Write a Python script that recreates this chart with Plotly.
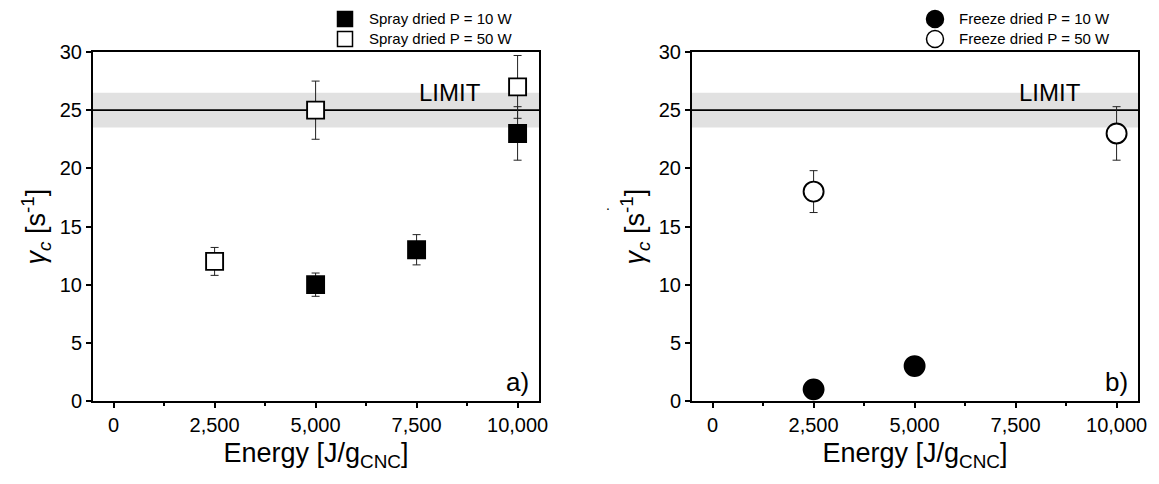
import plotly.graph_objects as go

# ---- data ----
spray10_x = [5000, 7500, 10000]
spray10_y = [10, 13, 23]
spray10_err = [1.0, 1.3, 2.3]

spray50_x = [2500, 5000, 10000]
spray50_y = [12, 25, 27]
spray50_err = [1.2, 2.5, 2.7]

freeze10_x = [2500, 5000]
freeze10_y = [1, 3]
freeze10_err = [0.1, 0.3]

freeze50_x = [2500, 10000]
freeze50_y = [18, 23]
freeze50_err = [1.8, 2.3]

limit_value = 25
limit_low = 23.5
limit_high = 26.5

x_ticks = [0, 2500, 5000, 7500, 10000]
y_ticks = [0, 5, 10, 15, 20, 25, 30]

FONT = "Liberation Sans, Arial, sans-serif"
W, H = 1159, 484
OFF = 8  # page body margin offset of the rendered html

fig = go.Figure()

def add_series(x, y, err, symbol, fill, name, xa, ya, size):
    fig.add_trace(go.Scatter(
        x=x, y=y, mode="markers", name=name, xaxis=xa, yaxis=ya,
        showlegend=False,
        marker=dict(symbol=symbol, size=size, color=fill,
                    line=dict(color="black", width=1.9)),
        error_y=dict(type="data", array=err, visible=True,
                     color="#222222", thickness=1, width=4),
    ))

add_series(spray10_x, spray10_y, spray10_err, "square", "black", "Spray dried P = 10 W", "x", "y", 17)
add_series(spray50_x, spray50_y, spray50_err, "square", "white", "Spray dried P = 50 W", "x", "y", 17)
add_series(freeze10_x, freeze10_y, freeze10_err, "circle", "black", "Freeze dried P = 10 W", "x2", "y2", 20)
add_series(freeze50_x, freeze50_y, freeze50_err, "circle", "white", "Freeze dried P = 50 W", "x2", "y2", 20)

def px_x(v):
    return (v - OFF) / W

def px_y(v):
    return 1 - (v - OFF) / H

dom1 = [px_x(93), px_x(539)]
dom2 = [px_x(692), px_x(1138)]
ydom = [px_y(401), px_y(52)]

axis_common = dict(
    showline=True, linewidth=2, linecolor="black", mirror=True,
    showgrid=False, zeroline=False, ticks="outside", ticklen=5,
    tickwidth=1.5, tickcolor="black", automargin=False,
    tickfont=dict(family=FONT, size=20, color="black"),
)

xaxis_common = dict(axis_common, range=[-510, 10530], tickvals=x_ticks,
                    tickformat=",d",
                    minor=dict(ticks="outside", tick0=0, dtick=1250, ticklen=3,
                               tickwidth=1.5, tickcolor="black", showgrid=False),
                    title=dict(text="Energy [J/g<sub>CNC</sub>]",
                               font=dict(family=FONT, size=27, color="black"),
                               standoff=8))
yaxis_common = dict(axis_common, range=[0, 30], tickvals=y_ticks,
                    title=dict(text="<i>γ<sub>c</sub></i> [s<sup>-1</sup>]",
                               font=dict(family=FONT, size=27, color="black"),
                               standoff=6))

fig.update_layout(
    width=W, height=H,
    margin=dict(l=0, r=0, t=0, b=0, autoexpand=False),
    paper_bgcolor="white", plot_bgcolor="white",
    showlegend=False,
    xaxis=dict(xaxis_common, domain=dom1, anchor="y"),
    yaxis=dict(yaxis_common, domain=ydom, anchor="x"),
    xaxis2=dict(xaxis_common, domain=dom2, anchor="y2"),
    yaxis2=dict(yaxis_common, domain=ydom, anchor="x2"),
)

# limit band and line
for xr, yr in [("x domain", "y"), ("x2 domain", "y2")]:
    fig.add_shape(type="rect", xref=xr, yref=yr, x0=0, x1=1,
                  y0=limit_low, y1=limit_high, fillcolor="#e1e1e1",
                  line=dict(width=0), layer="below")
    fig.add_shape(type="line", xref=xr, yref=yr, x0=0, x1=1,
                  y0=limit_value, y1=limit_value,
                  line=dict(color="black", width=1.7), layer="below")

# LIMIT texts
fig.add_annotation(x=8330, y=25.15, xref="x", yref="y", text="LIMIT",
                   showarrow=False, yanchor="bottom",
                   font=dict(family=FONT, size=24, color="black"))
fig.add_annotation(x=8340, y=25.15, xref="x2", yref="y2", text="LIMIT",
                   showarrow=False, yanchor="bottom",
                   font=dict(family=FONT, size=24, color="black"))

# panel labels
fig.add_annotation(x=1, y=0, xref="x domain", yref="y domain", text="a)",
                   showarrow=False, xanchor="right", yanchor="bottom",
                   xshift=-8, yshift=2,
                   font=dict(family=FONT, size=26, color="black"))
fig.add_annotation(x=1, y=0, xref="x2 domain", yref="y2 domain", text="b)",
                   showarrow=False, xanchor="right", yanchor="bottom",
                   xshift=-8, yshift=2,
                   font=dict(family=FONT, size=26, color="black"))

# stray dot near panel b y-title
fig.add_annotation(x=px_x(608), y=px_y(205), xref="paper", yref="paper",
                   text=".", showarrow=False,
                   font=dict(family=FONT, size=14, color="black"))

# legends (symbols as paper shapes, labels as annotations)
legend_items = [
    (345, 19, "rect", "black", "Spray dried P = 10 W"),
    (345, 39, "rect", "white", "Spray dried P = 50 W"),
    (935, 19, "circle", "black", "Freeze dried P = 10 W"),
    (935, 39, "circle", "white", "Freeze dried P = 50 W"),
]
for px, py, kind, fill, label in legend_items:
    half = 7.5 if kind == "rect" else 8.5
    fig.add_shape(type=kind, xref="paper", yref="paper",
                  x0=px_x(px - half), x1=px_x(px + half),
                  y0=px_y(py + half), y1=px_y(py - half),
                  fillcolor=fill, line=dict(color="black", width=1.5))
    fig.add_annotation(x=px_x(px + 22), y=px_y(py), xref="paper", yref="paper",
                       text=label, showarrow=False, xanchor="left", yanchor="middle",
                       font=dict(family=FONT, size=15, color="black"))

fig.write_html("out.html")
